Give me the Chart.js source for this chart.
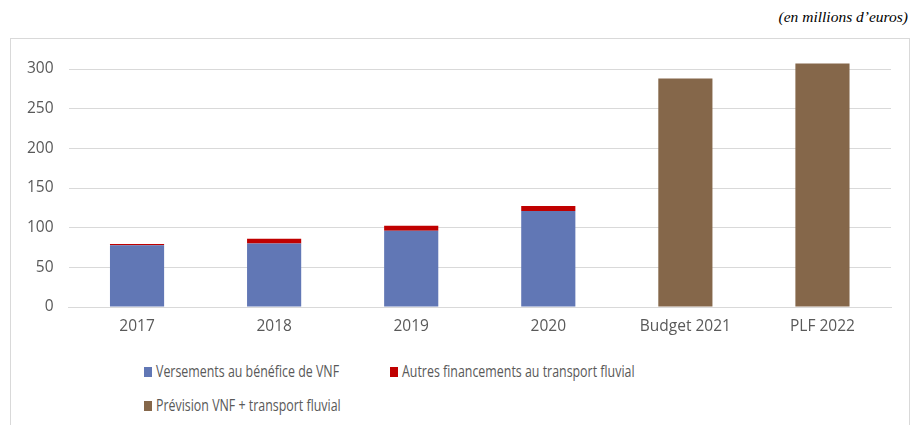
<!DOCTYPE html>
<html>
<head>
<meta charset="utf-8">
<script src="https://cdn.jsdelivr.net/npm/chart.js@4/dist/chart.umd.min.js"></script>
<style>
  body { margin: 0; background: #fff; width: 917px; height: 425px; overflow: hidden; position: relative; }
  #unit { position: absolute; right: 9px; top: 8px; font: italic 15.5px "Liberation Serif", serif; color: #000; }
  #frame { position: absolute; left: 10px; top: 38px; width: 898px; height: 420px; border: 1px solid #d9d9d9; }
  #wrap { position: absolute; left: 0; top: 0; width: 898px; height: 300px; }
  .legend { position: absolute; font: 15.5px "Open Sans", sans-serif; color: #595959; white-space: nowrap; transform: scaleX(0.8); transform-origin: 0 50%; }
  .legend span { display: inline-block; width: 10px; height: 10px; margin-right: 5px; vertical-align: 0px; }
</style>
</head>
<body>
<div id="unit">(en millions d’euros)</div>
<div id="frame">
  <div id="wrap"><canvas id="myChart"></canvas></div>
  <div id="legend"></div>
</div>
<script>
const categories = ['2017', '2018', '2019', '2020', 'Budget 2021', 'PLF 2022']
const versementsVNF = [78, 80, 96, 121, null, null]
const autresFinancements = [1.5, 6, 6.5, 6.5, null, null]
const previsionVNF = [null, null, null, null, 288, 307]
const yTicks = [0, 50, 100, 150, 200, 250, 300]

const seriesNames = ['Versements au bénéfice de VNF', 'Autres financements au transport fluvial', 'Prévision VNF + transport fluvial']
const seriesColors = ['#6177B5', '#C00000', '#85674A']

const FONT = { family: '"Open Sans", sans-serif', size: 15.5 }

const ctx = document.getElementById('myChart')
const chartInstance = new Chart(ctx, {
    type: 'bar',
    data: {
        labels: categories,
        datasets: [versementsVNF, autresFinancements, previsionVNF].map((values, i) => ({
            label: seriesNames[i],
            data: values,
            backgroundColor: seriesColors[i],
            borderWidth: 0,
            categoryPercentage: 1,
            barPercentage: 0.395
        }))
    },
    options: {
        responsive: true,
        maintainAspectRatio: false,
        animation: false,
        // room above 300 for the PLF 2022 bar
        layout: { padding: { left: 0, right: 18, top: 14.2, bottom: 0 } },
        scales: {
            x: {
                stacked: true,
                grid: { display: false, drawTicks: false },
                border: { color: '#d9d9d9' },
                ticks: { color: '#595959', font: FONT, padding: 10 },
                afterFit: s => { s.height = 32 }
            },
            y: {
                stacked: true,
                min: 0,
                max: 320,
                afterBuildTicks: s => { s.ticks = yTicks.map(v => ({ value: v })) },
                grid: { color: '#d9d9d9', drawTicks: false },
                border: { display: false },
                ticks: { color: '#595959', font: FONT, padding: 15 },
                afterFit: s => { s.width = 57.5; s.paddingTop = 0; s.paddingBottom = 0 }
            }
        },
        plugins: {
            legend: { display: false },
            tooltip: { enabled: false }
        }
    }
})

// legend laid out like the original (two rows, left aligned)
const legendPos = [[133, 321], [379, 321], [133, 355]]
const legendEl = document.getElementById('legend')
seriesNames.forEach((name, i) => {
    const d = document.createElement('div')
    d.className = 'legend'
    d.style.left = legendPos[i][0] + 'px'
    d.style.top = legendPos[i][1] + 'px'
    d.innerHTML = `<span style="background:${seriesColors[i]}"></span>${name}`
    legendEl.appendChild(d)
})
</script>
</body>
</html>
